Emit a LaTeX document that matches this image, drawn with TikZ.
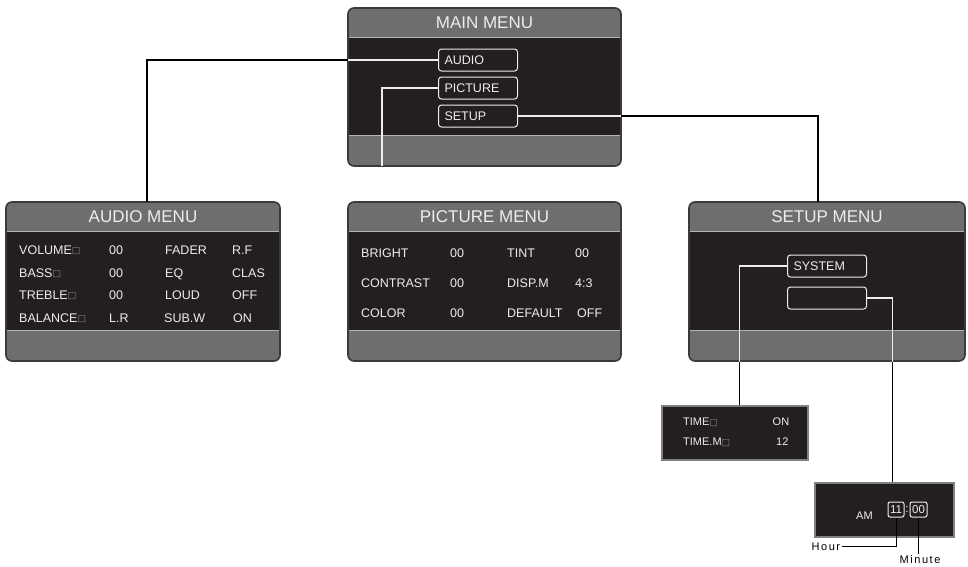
\documentclass[tikz,border=0pt]{standalone}
\usepackage{fontspec}
\setmainfont{Liberation Sans}
\newfontfamily\dvfont{DejaVu Sans}
\usetikzlibrary{fit,calc}
\definecolor{bandgray}{HTML}{6D6E70}
\definecolor{bodydark}{HTML}{231F20}
\definecolor{bordercol}{HTML}{3A3A3A}
\definecolor{sepcol}{HTML}{B4B4B4}
\definecolor{txtcol}{HTML}{EDEDED}
\definecolor{sqgray}{HTML}{8A8A8A}
\definecolor{boxedge}{HTML}{808080}
\newcommand\sqm{{\dvfont\color{sqgray}\fontsize{9}{9}\selectfont\raisebox{0.3pt}{□}}}
\tikzset{
  menutitle/.style={inner sep=0, text=txtcol, font=\fontsize{17}{19}\selectfont},
  txt/.style={anchor=base west, inner sep=0, text=txtcol, font=\fontsize{12.5}{14}\selectfont},
  smalltxt/.style={anchor=base west, inner sep=0, text=txtcol, font=\fontsize{11}{13}\selectfont},
  btn/.style={draw=txtcol, line width=1pt, fill=bodydark, rounded corners=3, anchor=west,
    minimum height=22, text width=67, inner xsep=6, inner ysep=0, align=left,
    text height=8.8pt, text depth=0pt, text=txtcol, font=\fontsize{12.5}{14}\selectfont},
  digbox/.style={draw=txtcol, line width=1pt, rounded corners=2, minimum height=15, inner sep=0,
    text=txtcol, font=\fontsize{11.5}{13}\selectfont},
  darkbox/.style={draw=boxedge, line width=1.5pt, fill=bodydark, inner sep=0, anchor=north west},
  conn/.style={draw=black, line width=1.3pt},
  connw/.style={draw=txtcol, line width=1.3pt},
  lbl/.style={anchor=base west, inner sep=1.5, font=\fontsize{11}{13}\selectfont\addfontfeature{LetterSpace=14}},
}
\newcommand\menubox[6]{%
  \fill[bandgray, rounded corners=6] (#2,#3) rectangle (#4,#5);
  \fill[bodydark] (#2,#3+29) rectangle (#4,#5-30);
  \draw[sepcol, line width=1pt] (#2,#3+29.5) -- (#4,#3+29.5);
  \draw[sepcol, line width=1pt] (#2,#5-30.5) -- (#4,#5-30.5);
  \draw[bordercol, line width=1.6pt, rounded corners=6] (#2,#3) rectangle (#4,#5);
  \node[inner sep=0, fit={(#2,#3)(#4,#5)}] (#1) {};
  \node[menutitle] (#1t) at ($(#1.north)+(0,15)$) {#6};
}
\begin{document}
\begin{tikzpicture}[x=1pt,y=-1pt]
\useasboundingbox (0,0) rectangle (968,566);
\fill[white] (0,0) rectangle (968,566);

% ---------- menus
\menubox{mainmenu}{348}{8}{621}{166}{MAIN MENU}
\menubox{audiomenu}{6}{202}{280}{361}{AUDIO MENU}
\menubox{picmenu}{348}{202}{621}{361}{PICTURE MENU}
\menubox{setupmenu}{689}{202}{965}{361}{SETUP MENU}

% ---------- main menu buttons
\node[btn] (baudio) at (438,60) {AUDIO};
\node[btn] (bpicture) at (438,88) {PICTURE};
\node[btn] (bsetup) at (438,116) {SETUP};
\coordinate (picend) at (382,166);

% ---------- setup buttons
\node[btn] (bsystem) at (787,266) {SYSTEM};
\node[btn] (bblank) at (787,298) {};

% ---------- audio menu text
\node[txt] (a11) at (19,254) {VOLUME\sqm};
\node[txt] (a12) at (109,254) {00};
\node[txt] (a13) at (165,254) {FADER};
\node[txt] (a14) at (232,254) {R.F};
\node[txt] (a21) at (19,277) {BASS\sqm};
\node[txt] (a22) at (109,277) {00};
\node[txt] (a23) at (165,277) {EQ};
\node[txt] (a24) at (232,277) {CLAS};
\node[txt] (a31) at (19,299) {TREBLE\sqm};
\node[txt] (a32) at (109,299) {00};
\node[txt] (a33) at (165,299) {LOUD};
\node[txt] (a34) at (232,299) {OFF};
\node[txt] (a41) at (19,322) {BALANCE\sqm};
\node[txt] (a42) at (109,322) {L.R};
\node[txt] (a43) at (164,322) {SUB.W};
\node[txt] (a44) at (233,322) {ON};

% ---------- picture menu text
\node[txt] (p11) at (361,257.5) {BRIGHT};
\node[txt] (p12) at (450,257.5) {00};
\node[txt] (p13) at (507,257.5) {TINT};
\node[txt] (p14) at (575,257.5) {00};
\node[txt] (p21) at (361,287.5) {CONTRAST};
\node[txt] (p22) at (450,287.5) {00};
\node[txt] (p23) at (507,287.5) {DISP.M};
\node[txt] (p24) at (575,287.5) {4:3};
\node[txt] (p31) at (361,317) {COLOR};
\node[txt] (p32) at (450,317) {00};
\node[txt] (p33) at (507,317) {DEFAULT};
\node[txt] (p34) at (577,317) {OFF};

% ---------- time box
\node[darkbox, minimum width=146, minimum height=54] (tb) at (661,405) {};
\node[smalltxt] (t11) at (683,425.7) {TIME\sqm};
\node[smalltxt] (t12) at (772.5,425.7) {ON};
\node[smalltxt] (t21) at (683,445.7) {TIME.M\sqm};
\node[smalltxt] (t22) at (776,445.7) {12};

% ---------- clock box
\node[darkbox, minimum width=139, minimum height=54] (cb) at (814,482) {};
\node[smalltxt] (amtxt) at (856,519) {AM};
\node[digbox, minimum width=16] (b11) at (896,509.5) {11};
\node[digbox, minimum width=17] (b00) at (918.5,509.5) {00};
\node[inner sep=0, text=txtcol, font=\fontsize{11.5}{13}\selectfont] (colon) at (907,509) {:};

% ---------- labels
\node[lbl] (hour) at (810,550.5) {Hour};
\node[lbl] (minute) at (898,563.5) {Minute};

% ---------- connectors (black outside, light inside menus)
\draw[conn] (baudio.west) -| ([xshift=4pt]audiomenu.north);
\draw[conn] (bsetup.east) -| ([xshift=-9pt]setupmenu.north);
\draw[conn] (bsystem.west) -| ([xshift=5pt]tb.north);
\draw[conn] (bblank.east) -| ([xshift=8.5pt]cb.north);
\begin{scope}
  \clip (348,8) rectangle (621,166);
  \draw[connw] (baudio.west) -| ([xshift=4pt]audiomenu.north);
  \draw[connw] (bsetup.east) -| ([xshift=-9pt]setupmenu.north);
  \draw[connw] (bpicture.west) -| (picend);
\end{scope}
\begin{scope}
  \clip (689,202) rectangle (965,361);
  \draw[connw] (bsystem.west) -| ([xshift=5pt]tb.north);
  \draw[connw] (bblank.east) -| ([xshift=8.5pt]cb.north);
\end{scope}
\draw[conn, line width=1pt] (hour.east) -| (b11.south);
\draw[conn, line width=1pt] (b00.south) -- (b00.south |- minute.north);
\end{tikzpicture}
\end{document}
